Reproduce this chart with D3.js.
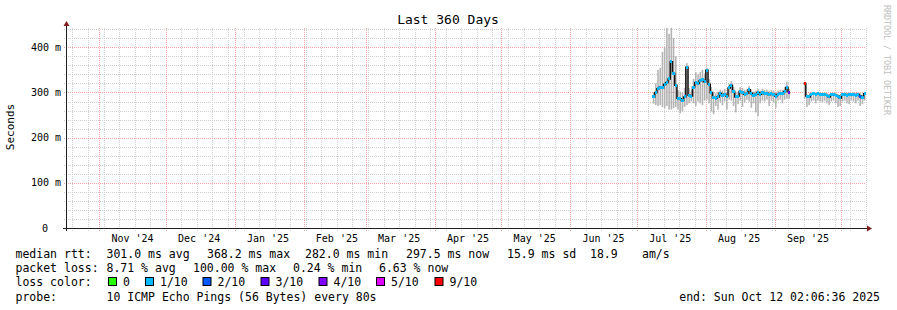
<!DOCTYPE html>
<html>
<head>
<meta charset="utf-8">
<script src="https://cdn.jsdelivr.net/npm/d3@7/dist/d3.min.js"></script>
<style>
  body { margin: 0; background: #fff; }
  svg text { font-family: "DejaVu Sans Mono", monospace; fill: #000; white-space: pre; }
</style>
</head>
<body>
<svg id="chart" width="897" height="310"></svg>
<script>
// daily values from 2025-07-08, null = no data
const firstDay = "2025-07-08";
const median = [
  290, 300, 308, 312, 310, 318, 322, 330, 368, 342,
  316, 287, 286, 282, 290, 356, 294, 292, 312, 322,
  320, 326, 328, 324, 349, 318, 300, 289, 287, 290,
  298, 294, 296, 292, 310, 316, 302, 290, 292, 302,
  300, 296, 298, 306, 298, 294, 296, 300, 296, 300,
  297, 298, 295, 297, 296, 292, 296, 298, 297, 302,
  311, 300, null, null, null, null, null, null, 320, 292,
  290, 296, 297, 296, 297, 296, 295, 296, 294, 290,
  295, 296, 294, 292, 288, 295, 296, 294, 296, 295,
  296, 294, 296, 292, 288, 297
];
const smokeLo = [
  275, 272, 270, 272, 268, 265, 270, 262, 262, 265,
  268, 262, 254, 258, 268, 272, 276, 280, 276, 270,
  280, 276, 272, 282, 284, 276, 258, 252, 270, 262,
  278, 272, 280, 262, 284, 282, 270, 256, 274, 282,
  268, 278, 284, 280, 266, 276, 256, 248, 276, 282,
  280, 284, 270, 282, 278, 266, 282, 284, 276, 284,
  286, 286, null, null, null, null, null, null, 286, 268,
  272, 280, 282, 276, 282, 280, 278, 282, 276, 272,
  280, 282, 276, 268, 270, 280, 282, 276, 274, 282,
  280, 276, 282, 270, 274, 282
];
const smokeHi = [
  300, 320, 350, 355, 390, 400, 443, 430, 443, 420,
  380, 305, 302, 300, 310, 365, 310, 305, 330, 345,
  340, 345, 350, 342, 355, 330, 312, 300, 298, 302,
  306, 304, 308, 300, 318, 325, 312, 300, 302, 312,
  310, 306, 306, 314, 306, 302, 304, 308, 304, 308,
  305, 306, 303, 305, 304, 300, 304, 306, 305, 312,
  324, 308, null, null, null, null, null, null, 324, 296,
  294, 300, 301, 300, 301, 300, 299, 300, 298, 294,
  299, 300, 298, 296, 292, 299, 300, 298, 300, 299,
  300, 298, 300, 298, 294, 301
];
const lossTenths = [
  1, 1, 1, 1, 1, 1, 1, 1, 1, 1,
  1, 1, 1, 1, 1, 1, 1, 1, 1, 1,
  1, 1, 1, 1, 1, 1, 1, 1, 1, 1,
  1, 1, 1, 1, 1, 1, 1, 1, 1, 1,
  1, 1, 1, 1, 1, 1, 1, 1, 1, 1,
  1, 1, 1, 1, 1, 1, 1, 1, 1, 1,
  1, 3, 0, 0, 0, 0, 0, 0, 9, 1,
  1, 1, 1, 1, 1, 1, 1, 1, 1, 1,
  1, 1, 1, 1, 1, 1, 1, 1, 1, 1,
  1, 1, 1, 2, 1, 1
];

const yTicks = [0, 100, 200, 300, 400];
const yTickLabels = ["0", "100 m", "200 m", "300 m", "400 m"];
const rttStats = ["301.0 ms avg", "368.2 ms max", "282.0 ms min", "297.5 ms now", "15.9 ms sd", "18.9", "am/s"];
const lossStats = ["8.71 % avg", "100.00 % max", "0.24 % min", "6.63 % now"];
const lossLevels = ["0", "1/10", "2/10", "3/10", "4/10", "5/10", "9/10"];
const lossColors = ["#26ff00", "#00b8ff", "#0059ff", "#5e00ff", "#7e00ff", "#dd00ff", "#ff0000"];
const probeText = "10 ICMP Echo Pings (56 Bytes) every 80s";
const endText = "end: Sun Oct 12 02:06:36 2025";

const svg = d3.select("#chart");
const tStart = new Date(Date.UTC(2024, 9, 17, 2, 6, 36));
const tEnd = new Date(Date.UTC(2025, 9, 12, 2, 6, 36));

let x = d3.scaleUtc().domain([tStart, tEnd]).range([66, 866]);
let y = d3.scaleLinear().domain([0, 442.7]).range([228, 28]);
let lossColor = d3.scaleThreshold().domain([1, 2, 3, 4, 5, 6]).range(lossColors);
const px = v => Math.round(v) + 0.5;

// grid: weeks / 20 ms minor, months / 100 ms major
let grid = svg.append("g");
grid.selectAll(".vmin")
  .data(d3.utcSunday.range(tStart, tEnd))
  .enter().append("line")
  .attr("x1", d => px(x(d))).attr("x2", d => px(x(d)))
  .attr("y1", 28).attr("y2", 231)
  .attr("stroke", "#d0d0d0").attr("stroke-dasharray", "1,1");
grid.selectAll(".hmin")
  .data(d3.range(20, 442, 20))
  .enter().append("line")
  .attr("x1", 64).attr("x2", 866)
  .attr("y1", d => px(y(d))).attr("y2", d => px(y(d)))
  .attr("stroke", "#d0d0d0").attr("stroke-dasharray", "1,1");
grid.selectAll(".vmaj")
  .data(d3.utcMonth.range(tStart, tEnd))
  .enter().append("line")
  .attr("x1", d => px(x(d))).attr("x2", d => px(x(d)))
  .attr("y1", 28).attr("y2", 231)
  .attr("stroke", "#f0a4a4").attr("stroke-dasharray", "1,1");
grid.selectAll(".hmaj")
  .data(yTicks.slice(1))
  .enter().append("line")
  .attr("x1", 64).attr("x2", 866)
  .attr("y1", d => px(y(d))).attr("y2", d => px(y(d)))
  .attr("stroke", "#f0a4a4").attr("stroke-dasharray", "1,1");

// data
let day0 = new Date(firstDay + "T00:00:00Z");
let days = d3.utcDay.range(day0, d3.utcDay.offset(day0, median.length));
let rows = days.map((d, i) => ({
  day: d,
  x0: x(d),
  x1: Math.min(x(d3.utcDay.offset(d, 1)), 866),
  med: median[i], lo: smokeLo[i], hi: smokeHi[i], loss: lossTenths[i]
}));
let valid = rows.filter(r => r.med != null);

let plot = svg.append("g");
// smoke whiskers
plot.selectAll(".smoke")
  .data(valid)
  .enter().append("rect")
  .attr("x", d => d.x0 + 0.3)
  .attr("width", 1.6)
  .attr("y", d => y(d.hi))
  .attr("height", d => y(d.lo) - y(d.hi))
  .attr("fill", "#b4b4b4");

let medLine = d3.line()
  .defined(d => d.med != null)
  .x(d => d.x0)
  .y(d => y(d.med))
  .curve(d3.curveStepAfter);
plot.append("path")
  .attr("d", medLine(rows.concat([{ x0: 866, med: rows[rows.length - 1].med }])))
  .attr("fill", "none")
  .attr("stroke", "#151515")
  .attr("stroke-width", 1.5);

plot.selectAll(".med")
  .data(valid)
  .enter().append("rect")
  .attr("x", d => d.x0)
  .attr("width", d => d.x1 - d.x0)
  .attr("y", d => y(d.med) - 1.5)
  .attr("height", 3)
  .attr("fill", d => lossColor(d.loss))
  .attr("shape-rendering", "crispEdges");

// axes
let axis = svg.append("g");
axis.append("line")
  .attr("x1", 63).attr("x2", 869).attr("y1", 228.5).attr("y2", 228.5)
  .attr("stroke", "#1f1f1f");
axis.append("line")
  .attr("x1", 66.5).attr("x2", 66.5).attr("y1", 231).attr("y2", 24)
  .attr("stroke", "#1f1f1f");
axis.append("path")
  .attr("d", "M867,225.5L872,228.5L867,231.5Z")
  .attr("fill", "#7f1f1f");
axis.append("path")
  .attr("d", "M63.5,26L66.5,21L69.5,26Z")
  .attr("fill", "#7f1f1f");

axis.selectAll(".ylab")
  .data(yTicks)
  .enter().append("text")
  .attr("x", (d, i) => i == 0 ? 48 : 61)
  .attr("y", d => y(d) + 3.5)
  .attr("text-anchor", "end")
  .attr("font-size", "10px")
  .text((d, i) => yTickLabels[i]);

axis.selectAll(".xlab")
  .data(d3.utcMonth.range(tStart, tEnd).map(m => d3.utcDay.offset(m, 15)).filter(d => d < tEnd))
  .enter().append("text")
  .attr("x", d => x(d))
  .attr("y", 241.5)
  .attr("text-anchor", "middle")
  .attr("font-size", "10px")
  .text(d => d3.utcFormat("%b '%y")(d));

// titles
svg.append("text")
  .attr("x", 448).attr("y", 23.5)
  .attr("text-anchor", "middle")
  .attr("font-size", "13px")
  .text("Last 360 Days");
svg.append("text")
  .attr("transform", "translate(14,127) rotate(-90)")
  .attr("text-anchor", "middle")
  .attr("font-size", "11px")
  .text("Seconds");
svg.append("text")
  .attr("transform", "translate(884,5) rotate(90)")
  .attr("font-size", "8.5px")
  .attr("textLength", 110)
  .style("fill", "#c0c0c0")
  .text("RRDTOOL / TOBI OETIKER");

// legend
let legend = svg.append("g").attr("font-size", "11.5px");
legend.append("text").attr("x", 15.5).attr("y", 258).text("median rtt:");
legend.selectAll(".rtt")
  .data(rttStats)
  .enter().append("text")
  .attr("x", (d, i) => [106.5, 207, 305, 406, 507, 590, 642][i])
  .attr("y", 258)
  .text(d => d);
legend.append("text").attr("x", 15.5).attr("y", 272).text("packet loss:");
legend.selectAll(".loss")
  .data(lossStats)
  .enter().append("text")
  .attr("x", (d, i) => [106.5, 193, 293, 379][i])
  .attr("y", 272)
  .text(d => d);
legend.append("text").attr("x", 15.5).attr("y", 286).text("loss color:");
let boxX = [108.5, 145.5, 203, 261, 319, 376.5, 435];
legend.selectAll(".lbox")
  .data(lossLevels)
  .enter().append("rect")
  .attr("x", (d, i) => boxX[i]).attr("y", 277.5)
  .attr("width", 8).attr("height", 8)
  .attr("fill", (d, i) => lossColors[i])
  .attr("stroke", "#000");
legend.selectAll(".ltxt")
  .data(lossLevels)
  .enter().append("text")
  .attr("x", (d, i) => boxX[i] + 14.5)
  .attr("y", 286)
  .text(d => d);
legend.append("text").attr("x", 15.5).attr("y", 300.5).text("probe:");
legend.append("text").attr("x", 106.5).attr("y", 300.5).text(probeText);
legend.append("text").attr("x", 880).attr("y", 300.5).attr("text-anchor", "end").text(endText);
</script>
</body>
</html>
